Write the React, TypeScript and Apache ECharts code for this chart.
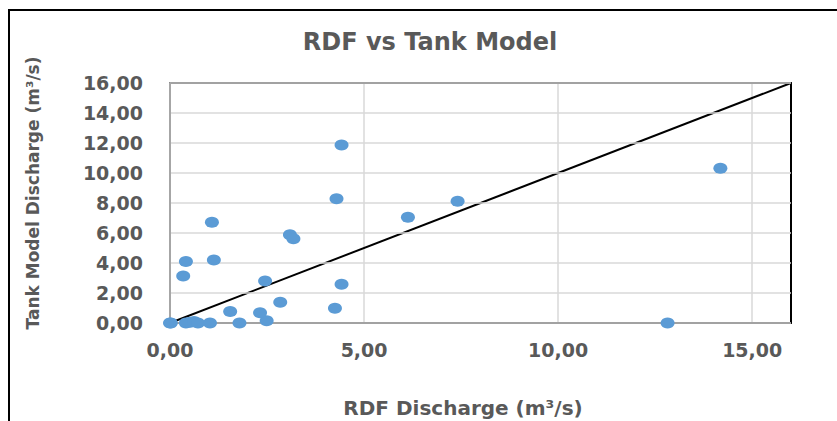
import React, { useEffect, useRef } from "react";
import * as echarts from "echarts";

const titleText = "RDF vs Tank Model";
const xTitle = "RDF Discharge (m³/s)";
const yTitle = "Tank Model Discharge (m³/s)";

const rdfDischarge = [0, 0.02, 0.41, 0.52, 0.62, 0.72, 1.03, 1.79, 2.49, 1.55, 2.32, 2.84, 4.25, 4.42, 2.45, 0.34, 0.41, 1.13, 3.09, 3.18, 1.08, 6.13, 7.41, 4.29, 4.42, 14.18, 12.82];
const tankDischarge = [0, 0, 0, 0.05, 0.1, 0, 0, 0, 0.15, 0.76, 0.69, 1.38, 0.98, 2.58, 2.8, 3.13, 4.1, 4.2, 5.89, 5.62, 6.72, 7.05, 8.12, 8.28, 11.87, 10.31, 0];
const lineX = [0, 16];
const lineY = [0, 16];

const fmt = (v: number) => v.toFixed(2).replace(".", ",");
const FONT = "DejaVu Sans";
const GRAY = "#595959";

export default function App() {
  const ref = useRef<HTMLDivElement>(null);
  useEffect(() => {
    if (!ref.current) return;
    const chart = echarts.init(ref.current, null, { renderer: "svg" });
    chart.setOption({
      animation: false,
      backgroundColor: "#fff",
      grid: { left: 170, right: 46, top: 83, bottom: 98 },
      xAxis: [
        {
          type: "value",
          min: 0,
          max: 16,
          interval: 5,
          axisLine: { show: true, onZero: false, lineStyle: { color: "#000", width: 2 } },
          axisTick: { show: false },
          splitLine: { show: true, lineStyle: { color: "#D9D9D9", width: 1.5 } },
          axisLabel: {
            formatter: fmt,
            showMaxLabel: false,
            color: GRAY,
            fontFamily: FONT,
            fontWeight: "bold",
            fontSize: 19,
            margin: 17,
          },
        },
        {
          type: "value",
          position: "top",
          min: 0,
          max: 16,
          axisLine: { show: true, onZero: false, lineStyle: { color: "#000", width: 2 } },
          axisTick: { show: false },
          axisLabel: { show: false },
          splitLine: { show: false },
        },
      ],
      yAxis: [
        {
          type: "value",
          min: 0,
          max: 16,
          interval: 2,
          z: 5,
          axisLine: { show: true, onZero: false, lineStyle: { color: "#A6A6A6", width: 2 } },
          axisTick: { show: false },
          splitLine: { show: true, lineStyle: { color: "#D9D9D9", width: 1.5 } },
          axisLabel: {
            formatter: fmt,
            color: GRAY,
            fontFamily: FONT,
            fontWeight: "bold",
            fontSize: 19,
            margin: 27,
          },
        },
        {
          type: "value",
          position: "right",
          min: 0,
          max: 16,
          axisLine: { show: true, onZero: false, lineStyle: { color: "#000", width: 2 } },
          axisTick: { show: false },
          axisLabel: { show: false },
          splitLine: { show: false },
        },
      ],
      series: [
        {
          type: "line",
          data: lineX.map((x, i) => [x, lineY[i]]),
          symbol: "none",
          lineStyle: { color: "#000", width: 2 },
          z: 2,
        },
        {
          type: "scatter",
          data: rdfDischarge.map((x, i) => [x, tankDischarge[i]]),
          symbol: "circle",
          symbolSize: [14, 11],
          itemStyle: { color: "#5B9BD5", opacity: 1 },
          z: 6,
        },
      ],
      graphic: [
        {
          type: "rect",
          shape: { x: 9, y: 10, width: 900, height: 500 },
          style: { fill: "none", stroke: "#000", lineWidth: 2 },
          silent: true,
        },
        {
          type: "text",
          x: 430,
          y: 42,
          style: {
            text: titleText,
            fontFamily: FONT,
            fontWeight: "bold",
            fontSize: 24,
            fill: GRAY,
            align: "center",
            verticalAlign: "middle",
          },
        },
        {
          type: "text",
          x: 463,
          y: 408,
          style: {
            text: xTitle,
            fontFamily: FONT,
            fontWeight: "bold",
            fontSize: 20,
            fill: GRAY,
            align: "center",
            verticalAlign: "middle",
          },
        },
        {
          type: "text",
          x: 33,
          y: 193,
          rotation: Math.PI / 2,
          style: {
            text: yTitle,
            fontFamily: FONT,
            fontWeight: "bold",
            fontSize: 17,
            fill: GRAY,
            align: "center",
            verticalAlign: "middle",
          },
        },
      ],
    });
    return () => chart.dispose();
  }, []);
  return (
    <div
      ref={ref}
      style={{ position: "fixed", left: 0, top: 0, width: 837, height: 421 }}
    />
  );
}
